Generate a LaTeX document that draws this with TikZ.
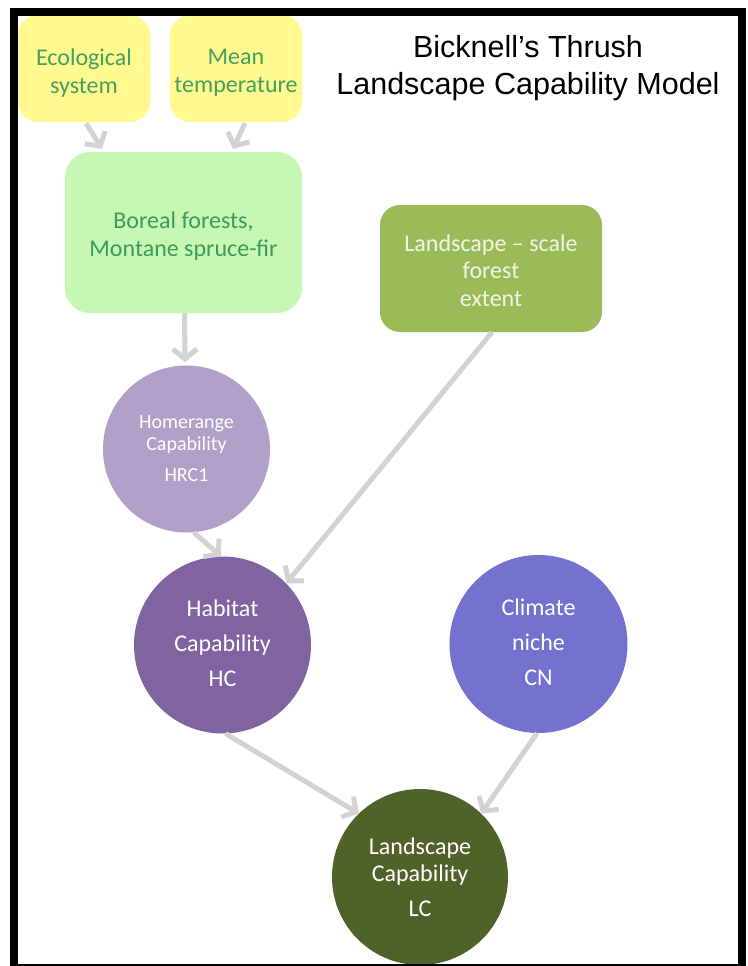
\documentclass[tikz,border=0pt]{standalone}
\usepackage{fontspec}
\setmainfont{Carlito}
\newfontfamily\titlefont{Liberation Sans}
\usetikzlibrary{arrows.meta,calc}
\definecolor{yel}{HTML}{FFF98F}
\definecolor{yeltext}{HTML}{44A060}
\definecolor{lgreen}{HTML}{C6F8B4}
\definecolor{lgtext}{HTML}{3B9A5C}
\definecolor{olive}{HTML}{9BBB59}
\definecolor{olivetext}{HTML}{F2F5E6}
\definecolor{hrc}{HTML}{B1A0C7}
\definecolor{hab}{HTML}{8064A2}
\definecolor{clim}{HTML}{7373CF}
\definecolor{lcc}{HTML}{4F6228}
\definecolor{arrgray}{HTML}{D3D3D3}
\tikzset{
  ybox/.style={rectangle, rounded corners=20pt, fill=yel, minimum width=132pt, minimum height=107pt, inner sep=0pt},
  gbox/.style={rectangle, rounded corners=25pt, fill=lgreen, minimum width=237pt, minimum height=161pt, inner sep=0pt},
  obox/.style={rectangle, rounded corners=20pt, fill=olive, minimum width=222pt, minimum height=127pt, inner sep=0pt},
  boxtext/.style={align=center, inner sep=0pt},
  bubble/.style={circle, inner sep=0pt, text=white, align=center},
  arr/.style={draw=arrgray, line width=5pt, -{Straight Barb[length=10pt, width=24pt, line width=5pt]}}
}
\begin{document}
\begin{tikzpicture}[x=1pt,y=-1pt]
\useasboundingbox (0,0) rectangle (747,966);
\fill[white] (0,0) rectangle (747,966);
% boxes
\node[ybox] (eco) at (84,68.5) {};
\node[boxtext, text=yeltext, font=\fontsize{24}{28}\selectfont] (ecot) at ([yshift=-4.5pt]eco.center) {Ecological\\system};
\node[ybox] (mean) at (236,68.5) {};
\node[boxtext, text=yeltext, font=\fontsize{24}{28}\selectfont] (meant) at ([yshift=-4.5pt]mean.center) {Mean\\temperature};
\node[gbox] (bor) at (183.5,232.5) {};
\node[boxtext, text=lgtext, font=\fontsize{24}{28}\selectfont] (bort) at ([yshift=-4pt]bor.center) {Boreal forests,\\Montane spruce-fir};
\node[obox] (ls) at (491,268.5) {};
\node[boxtext, text=olivetext, font=\fontsize{24}{27.5}\selectfont] (lst) at ([yshift=-2pt]ls.center) {Landscape -- scale\\forest\\extent};
% circles
\node[bubble, fill=hrc, minimum size=167pt, font=\fontsize{20}{22}\selectfont] (hr) at (186.5,449) {Homerange\\Capability\\[9pt]HRC1};
\node[bubble, fill=hab, minimum size=177pt] (hc) at (222.5,645) {};
\node[boxtext, text=white, font=\fontsize{24}{35}\selectfont] (hct) at ([yshift=2pt]hc.center) {Habitat\\Capability\\HC};
\node[bubble, fill=clim, minimum size=178pt] (cn) at (538.5,644) {};
\node[boxtext, text=white, font=\fontsize{24}{35}\selectfont] (cnt) at ([yshift=1.5pt]cn.center) {Climate\\niche\\CN};
\node[bubble, fill=lcc, minimum size=176pt, font=\fontsize{24}{27}\selectfont] (lc) at (420,877) {Landscape\\Capability\\[8pt]LC};
% title
\node[font=\titlefont\fontsize{30.5}{37}\selectfont, align=center, inner sep=0pt] (title) at (528,68) {Bicknell’s Thrush\\Landscape Capability Model};
% connectors
\draw[arr] ([xshift=2pt,yshift=-1pt]eco.south) -- ([xshift=-81.5pt,yshift=3pt]bor.north);
\draw[arr] ([xshift=9pt,yshift=-1pt]mean.south) -- ([xshift=49.5pt,yshift=3pt]bor.north);
\draw[arr] ([xshift=1pt]bor.south) -- ([xshift=-1.5pt,yshift=3pt]hr.north);
\draw[arr] (hr.-85) -- (hc.91);
\draw[arr] ([xshift=1pt]ls.south) -- (hc.44);
\draw[arr] (hc.-88) -- (lc.134);
\draw[arr] (cn.-91) -- (lc.46);
% frame
\draw[line width=8pt] (14,12) rectangle (742,968);
\end{tikzpicture}
\end{document}
